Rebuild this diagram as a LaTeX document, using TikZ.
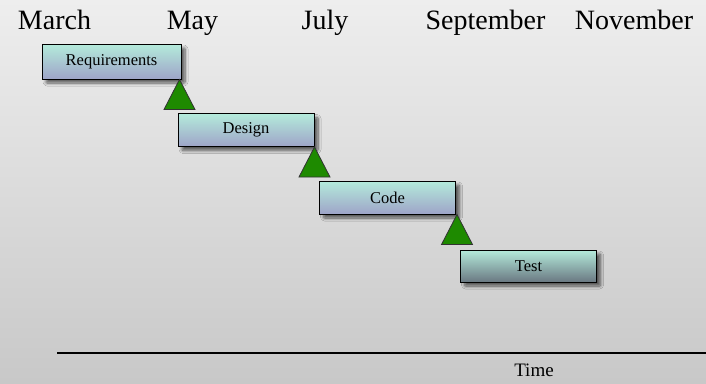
\documentclass[tikz,border=0pt]{standalone}
\usepackage{fontspec}
\setmainfont{Liberation Serif}
\usetikzlibrary{shadows.blur}

\definecolor{bgtop}{HTML}{EEEEEE}
\definecolor{bgbottom}{HTML}{C8C8C8}
\definecolor{boxtop}{HTML}{B4EBDB}
\definecolor{boxbottom}{HTML}{9EA4C8}
\definecolor{testbottom}{HTML}{6A7882}
\definecolor{milestone}{HTML}{1E8A00}

\tikzset{
  month/.style={anchor=base, font=\fontsize{28}{30}\selectfont, inner sep=0pt},
  phase/.style={draw=black, line width=1pt, minimum width=136pt, minimum height=33pt,
    inner sep=0pt, font=\fontsize{16.5}{18}\selectfont,
    top color=boxtop, bottom color=boxbottom,
    blur shadow={shadow xshift=4pt, shadow yshift=-4pt, shadow blur steps=8,
      shadow blur radius=3pt, shadow blur extra rounding=1pt, shadow opacity=60}},
  lastphase/.style={phase, bottom color=testbottom},
  milestonetri/.style={fill=milestone, draw=black!80, line width=0.8pt, line join=miter},
  axis/.style={draw=black, line width=1.2pt},
  axislabel/.style={anchor=base, font=\fontsize{19}{21}\selectfont, inner sep=0pt},
}

\begin{document}
\begin{tikzpicture}[x=1pt, y=-1pt]
  % page and background
  \useasboundingbox (0,0) rectangle (706,383);
  \shade[top color=bgtop, bottom color=bgbottom] (0,0) rectangle (706,383);

  % month scale
  \node[month] (mar) at (54.5,29.5) {March};
  \node[month] (may) at (192.5,29.5) {May};
  \node[month] (jul) at (325,29.5) {July};
  \node[month] (sep) at (485.5,29.5) {September};
  \node[month] (nov) at (634,29.5) {November};

  % phases
  \node[phase, minimum width=139pt, minimum height=35pt] (req) at (111.5,61.5) {Requirements};
  \node[phase] (des) at (246,130) {Design};
  \node[phase] (cod) at (387.5,197.5) {Code};
  \node[lastphase, minimum height=32pt] (tst) at (528.5,266) {Test};

  % milestones between phases
  \foreach \b/\dx in {req/-2, des/0, cod/1} {
    \draw[milestonetri] ([xshift=\dx pt]\b.south east) -- ++(15.5,30) -- ++(-31,0) -- cycle;
  }

  % time axis
  \coordinate (axisstart) at (57,353);
  \coordinate (axisend) at (706,353);
  \draw[axis] (axisstart) -- (axisend);
  \node[axislabel] (time) at (534,376) {Time};
\end{tikzpicture}
\end{document}
